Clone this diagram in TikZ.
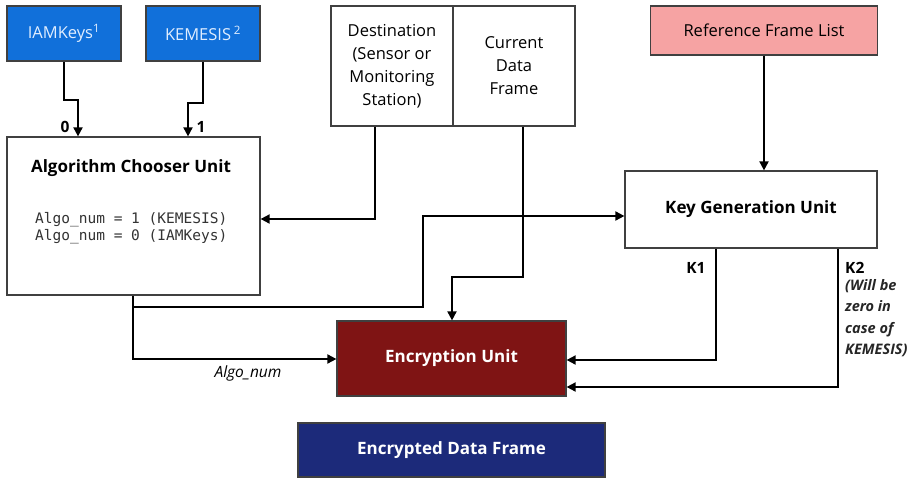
\documentclass[tikz,border=0pt]{standalone}
\usepackage{fontspec}
\setmainfont{Open Sans}
\setmonofont{DejaVu Sans Mono}
\usetikzlibrary{arrows.meta,calc}
\definecolor{bluebox}{RGB}{17,112,218}
\definecolor{pinkbox}{RGB}{246,163,163}
\definecolor{redbox}{RGB}{127,20,20}
\definecolor{navybox}{RGB}{28,42,122}
\definecolor{lighttext}{RGB}{225,238,255}
\tikzset{
  boxn/.style={draw=black!75, line width=1.2pt, minimum width=#1, inner sep=0pt, align=center, font=\fontsize{16.5}{23}\selectfont},
  arr/.style={line width=1.8pt, -{Triangle[length=9pt,width=9pt]}},
  lbl/.style={inner sep=0pt, font=\bfseries\fontsize{15.5}{20}\selectfont},
  ttl/.style={inner sep=0pt, font=\bfseries\fontsize{17}{20}\selectfont},
}
\begin{document}
\begin{tikzpicture}[x=1pt,y=-1pt]
\useasboundingbox (0,0) rectangle (920,479);
% nodes
\node[boxn=114pt, minimum height=55pt, fill=bluebox, text=lighttext] (iam) at (64,33.5) {IAMKeys\textsuperscript{1}};
\node[boxn=114pt, minimum height=55pt, fill=bluebox, text=lighttext] (kem) at (203,33.5) {KEMESIS\,\textsuperscript{2}};
\node[boxn=253pt, minimum height=158pt, fill=white] (acu) at (133.5,216) {};
\node[ttl] (acut) at (131,168) {Algorithm Chooser Unit};
\node[inner sep=0pt, align=left, anchor=west, font=\fontsize{14.5}{16.5}\selectfont\ttfamily, text=black!80] (acum) at (35,228) {Algo\_num = 1 (KEMESIS)\\Algo\_num = 0 (IAMKeys)};
\node[boxn=122pt, minimum height=120pt] (dest) at (392,66) {Destination\\(Sensor or\\Monitoring\\Station)};
\node[boxn=122pt, minimum height=120pt] (cur) at (514,66) {Current\\Data\\Frame};
\node[boxn=227pt, minimum height=49pt, fill=pinkbox] (ref) at (764,30.5) {Reference Frame List};
\node[boxn=252pt, minimum height=77pt, font=\bfseries\fontsize{17}{20}\selectfont] (kgu) at (751,209.5) {Key Generation Unit};
\node[boxn=229pt, minimum height=75pt, fill=redbox, text=white, font=\bfseries\fontsize{17}{20}\selectfont] (enc) at (451.5,358.5) {Encryption Unit};
\node[boxn=307pt, minimum height=54pt, fill=navybox, text=white, font=\bfseries\fontsize{17}{20}\selectfont] (edf) at (451.5,450) {Encrypted Data Frame};
% labels
\node[lbl] (l0) at (65,127) {0};
\node[lbl] (l1) at (201,127) {1};
\node[lbl] (k1) at (696,268) {K1};
\node[lbl, anchor=west] (k2) at (845,268) {K2};
\node[inner sep=0pt, anchor=north west, align=left, font=\bfseries\itshape\fontsize{14.5}{21.5}\selectfont, text=black!85] (k2n) at (845,279) {(Will be\\zero in\\case of\\KEMESIS)};
\node[inner sep=0pt, font=\itshape\fontsize{15.5}{20}\selectfont, text=black] (an) at (248,373) {Algo\_num};
% connectors
\draw[arr] (iam.south) -- (64,100) -- (78,100) -- (78,0 |- acu.north);
\draw[arr] (kem.south) -- (203,103) -- (188,103) -- (188,0 |- acu.north);
\draw[arr] (375,0 |- dest.south) -- (375,219) -- (acu.east |- 0,219);
\draw[arr] (523,0 |- cur.south) -- (523,277) -- (452,277) -- (452,0 |- enc.north);
\draw[arr] (133,0 |- acu.south) -- (133,359) -- (enc.west |- 0,359);
\draw[arr] (133,307) -- (423,307) -- (423,216) -- (kgu.west |- 0,216);
\draw[arr] (ref.south) -- (ref.south |- kgu.north);
\draw[arr] (716,0 |- kgu.south) -- (716,360) -- (enc.east |- 0,360);
\draw[arr] (838,0 |- kgu.south) -- (838,387) -- (enc.east |- 0,387);
\end{tikzpicture}
\end{document}
